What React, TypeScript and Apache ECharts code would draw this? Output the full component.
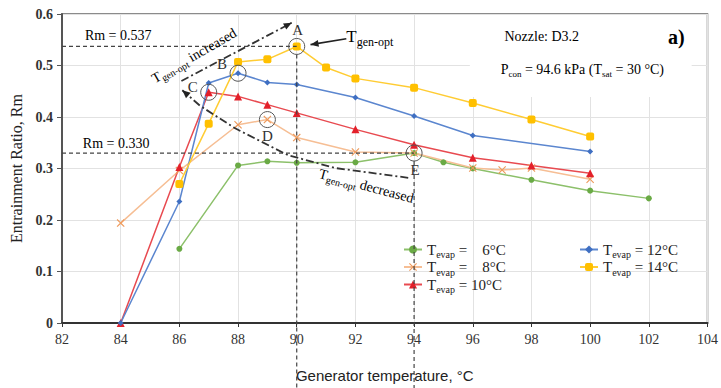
import React, { useEffect, useRef } from "react";
import * as echarts from "echarts";

// ---- data ----
const temps6 = [86, 88, 89, 90, 92, 94, 95, 96, 98, 100, 102];
const rm6 = [0.144, 0.306, 0.314, 0.311, 0.312, 0.33, 0.312, 0.3, 0.278, 0.257, 0.242];
const temps8 = [84, 86, 88, 89, 90, 92, 94, 96, 97, 98, 100];
const rm8 = [0.194, 0.296, 0.385, 0.395, 0.36, 0.332, 0.33, 0.301, 0.297, 0.301, 0.279];
const temps10 = [84, 86, 87, 88, 89, 90, 92, 94, 96, 98, 100];
const rm10 = [0, 0.303, 0.448, 0.44, 0.424, 0.408, 0.376, 0.346, 0.321, 0.306, 0.291];
const temps12 = [84, 86, 87, 88, 89, 90, 92, 94, 96, 100];
const rm12 = [0, 0.236, 0.466, 0.485, 0.467, 0.463, 0.438, 0.402, 0.364, 0.333];
const temps14 = [86, 87, 88, 89, 90, 91, 92, 94, 96, 98, 100];
const rm14 = [0.27, 0.387, 0.507, 0.512, 0.537, 0.496, 0.475, 0.457, 0.427, 0.395, 0.362];

const evapTemps = ["6", "8", "10", "12", "14"];
const xMin = 82, xMax = 104, xStep = 2;
const yMin = 0, yMax = 0.6, yStep = 0.1;

// reference lines: [T_gen-opt, Rm]
const refLineA = [90, 0.537];
const refLineE = [94, 0.33];

// circled points: label, x, y
const circled: [string, number, number][] = [
  ["A", 90, 0.537],
  ["B", 88, 0.485],
  ["C", 87, 0.448],
  ["D", 89, 0.395],
  ["E", 94, 0.33],
];

// dash-dot arrows in data coordinates
const arrowIncreased = [[86.07, 0.47], [89.83, 0.583]];
const arrowDecreased = [[93.8, 0.282], [91.3, 0.301], [89.7, 0.326], [87.9, 0.378], [86.7, 0.422], [86.1, 0.452]];
const arrowTopt = [[91.69, 0.552], [90.47, 0.5405]];

const SERIF = "'Liberation Serif', 'DejaVu Serif', serif";

const X_PATH = "path://M0,1 L1,0 L5,4 L9,0 L10,1 L6,5 L10,9 L9,10 L5,6 L1,10 L0,9 L4,5 Z";

export default function App() {
  const ref = useRef<HTMLDivElement>(null);
  useEffect(() => {
    if (!ref.current) return;
    const chart = echarts.init(ref.current, undefined, { renderer: "svg" });
    const zip = (xs: number[], ys: number[]) => xs.map((x, i) => [x, ys[i]]);
    const mk = (
      t: string, xs: number[], ys: number[], color: string, lineColor: string,
      symbol: string, size: number
    ) => ({
      type: "line",
      name: `Tevap = ${t}°C`,
      data: zip(xs, ys),
      symbol,
      symbolSize: size,
      showSymbol: true,
      lineStyle: { color: lineColor, width: 1.5 },
      itemStyle: { color },
      z: 3,
    });
    const rich = {
      t: { fontFamily: SERIF, fontSize: 15, color: "#222", lineHeight: 20, verticalAlign: "middle" },
      s: { fontFamily: SERIF, fontSize: 10, color: "#222", lineHeight: 20, verticalAlign: "bottom" },
    };
    const fmt = (name: string) => {
      const v = name.split("= ")[1];
      const pad = v.length < 4 ? "\u00A0\u00A0\u00A0" : "";
      return `{t|T}{s|evap}{t| = ${pad}${v}}`;
    };
    const legendBase = {
      orient: "vertical",
      itemWidth: 18,
      itemHeight: 10,
      itemGap: 0,
      formatter: fmt,
      textStyle: { rich },
    };
    chart.setOption({
      animation: false,
      backgroundColor: "#fff",
      grid: { left: 62, right: 9, top: 14, bottom: 61, show: true, borderColor: "#666", borderWidth: 1.5 },
      xAxis: {
        type: "value", min: xMin, max: xMax, interval: xStep,
        name: "Generator temperature, °C", nameLocation: "middle", nameGap: 45,
        nameTextStyle: { fontFamily: "'Liberation Sans', Arial, sans-serif", fontSize: 15, color: "#222" },
        axisLine: { lineStyle: { color: "#333", width: 2 } },
        axisTick: { show: true, length: 4, lineStyle: { color: "#333" } },
        axisLabel: { fontFamily: SERIF, fontSize: 14, color: "#333", margin: 9 },
        splitLine: { show: true, lineStyle: { color: "#e2e2e2", width: 1 } },
      },
      yAxis: {
        type: "value", min: yMin, max: yMax, interval: yStep,
        name: "Entrainment Ratio, Rm", nameLocation: "middle", nameGap: 38,
        nameTextStyle: { fontFamily: SERIF, fontSize: 16, color: "#222" },
        axisLine: { show: true, lineStyle: { color: "#555", width: 2 } },
        axisTick: { show: true, length: 5, lineStyle: { color: "#555" } },
        axisLabel: { fontFamily: SERIF, fontSize: 14, color: "#333", margin: 9, fontWeight: "bold" },
        splitLine: { show: true, lineStyle: { color: "#e2e2e2", width: 1 } },
      },
      legend: [
        { ...legendBase, left: 398, top: 237, data: ["Tevap = 6°C", "Tevap = 8°C", "Tevap = 10°C"] },
        { ...legendBase, left: 574, top: 237, data: ["Tevap = 12°C", "Tevap = 14°C"] },
      ],
      series: [
        mk(evapTemps[0], temps6, rm6, "#6AAA45", "#8CC06A", "circle", 6),
        mk(evapTemps[1], temps8, rm8, "#EE9A5C", "#F6BE94", X_PATH, 8),
        mk(evapTemps[2], temps10, rm10, "#E3202A", "#E84A50", "triangle", 8),
        mk(evapTemps[3], temps12, rm12, "#3F6FC2", "#5B86CF", "diamond", 6),
        mk(evapTemps[4], temps14, rm14, "#FFC000", "#FFCC33", "roundRect", 8),
      ],
    });

    const P = (x: number, y: number) => chart.convertToPixel({ xAxisIndex: 0, yAxisIndex: 0 }, [x, y]) as number[];
    const H = chart.getHeight();
    const dashStyle = { stroke: "#444", lineWidth: 1.2, lineDash: [4, 3], fill: "none" };
    const g: any[] = [];
    // white box behind the condition text
    const b0 = P(95.9, 0.6), b1 = P(103.46, 0.441);
    g.push({ type: "rect", shape: { x: b0[0], y: b0[1] + 1, width: b1[0] - b0[0], height: b1[1] - b0[1] }, style: { fill: "#fff" }, z: 40 });
    // dashed reference lines
    [refLineA, refLineE].forEach(([tx, ry]) => {
      const a = P(xMin, ry), b = P(tx, ry);
      g.push({ type: "line", shape: { x1: a[0], y1: a[1], x2: b[0], y2: b[1] }, style: dashStyle, z: 50 });
      g.push({ type: "line", shape: { x1: b[0], y1: b[1] + 8, x2: b[0], y2: H }, style: dashStyle, z: 50 });
    });
    // circles and labels
    const labelOff: Record<string, number[]> = { A: [1, -16], B: [-16, -9], C: [-16, -5], D: [0, 16], E: [1, 17] };
    circled.forEach(([lab, x, y]) => {
      const p = P(x, y);
      g.push({ type: "circle", shape: { cx: p[0], cy: p[1], r: 8 }, style: { stroke: "#555", lineWidth: 1, fill: "none" }, z: 55 });
      const o = labelOff[lab];
      g.push({ type: "text", x: p[0] + o[0], y: p[1] + o[1], style: { text: lab, font: `15px ${SERIF}`, fill: "#333", align: "center", verticalAlign: "middle" }, z: 60 });
    });
    const arrowHead = (pts: number[][], L = 8, W = 3.5) => {
      const tip = pts[pts.length - 1], prev = pts[pts.length - 2];
      const dx = tip[0] - prev[0], dy = tip[1] - prev[1];
      const len = Math.hypot(dx, dy);
      const ux = dx / len, uy = dy / len;
      const nx = -uy, ny = ux;
      return [tip, [tip[0] - ux * L + nx * W, tip[1] - uy * L + ny * W], [tip[0] - ux * L - nx * W, tip[1] - uy * L - ny * W]];
    };
    const dashDot = { stroke: "#333", lineWidth: 1.8, lineDash: [8, 3, 2, 3], fill: "none" };
    [arrowIncreased, arrowDecreased].forEach((arr) => {
      const pts = arr.map(([x, y]) => P(x, y));
      g.push({ type: "polyline", shape: { points: pts }, style: dashDot, z: 50 });
      g.push({ type: "polygon", shape: { points: arrowHead(pts) }, style: { fill: "#222" }, z: 51 });
    });
    {
      const pts = arrowTopt.map(([x, y]) => P(x, y));
      g.push({ type: "line", shape: { x1: pts[0][0], y1: pts[0][1], x2: pts[1][0], y2: pts[1][1] }, style: { stroke: "#222", lineWidth: 1.6 }, z: 50 });
      g.push({ type: "polygon", shape: { points: arrowHead(pts, 8, 3.5) }, style: { fill: "#222" }, z: 51 });
    }
    const richA = {
      b: { fontFamily: SERIF, fontSize: 17, color: "#222", lineHeight: 22, verticalAlign: "middle" },
      s: { fontFamily: SERIF, fontSize: 12, color: "#222", lineHeight: 22, verticalAlign: "bottom" },
      m: { fontFamily: SERIF, fontSize: 14, color: "#333", lineHeight: 18, verticalAlign: "middle" },
      ms: { fontFamily: SERIF, fontSize: 10, color: "#333", lineHeight: 18, verticalAlign: "bottom" },
      n: { fontFamily: SERIF, fontSize: 14, color: "#222", lineHeight: 18, verticalAlign: "middle" },
      ns: { fontFamily: SERIF, fontSize: 9, color: "#222", lineHeight: 18, verticalAlign: "bottom" },
      bold: { fontFamily: SERIF, fontSize: 20, fontWeight: "bold", color: "#111" },
    };
    const txt = (x: number, y: number, text: string, align = "left", rotation = 0, z = 60) => {
      const p = P(x, y);
      g.push({ type: "text", x: p[0], y: p[1], rotation, style: { text, rich: richA, align, verticalAlign: "middle" }, z });
    };
    txt(82.78, 0.558, "{m|Rm = 0.537}");
    txt(82.71, 0.349, "{m|Rm = 0.330}");
    txt(91.69, 0.556, "{b|T}{s|gen-opt}");
    txt(86.5, 0.519, "{m|T}{ms|gen-opt}{m| increased}", "center", (30 * Math.PI) / 180);
    txt(92.37, 0.266, "{m|T}{ms|gen-opt}{m| decreased}", "center", (-15 * Math.PI) / 180);
    txt(97.08, 0.556, "{n|Nozzle: D3.2}");
    txt(96.95, 0.493, "{n|P}{ns|con}{n| = 94.6 kPa (T}{ns|sat}{n| = 30 °C)}");
    txt(102.65, 0.556, "{bold|a)}");
    chart.setOption({ graphic: g });
    return () => chart.dispose();
  }, []);
  return <div ref={ref} style={{ width: 721, height: 388, position: "absolute", left: 0, top: 0 }} />;
}
